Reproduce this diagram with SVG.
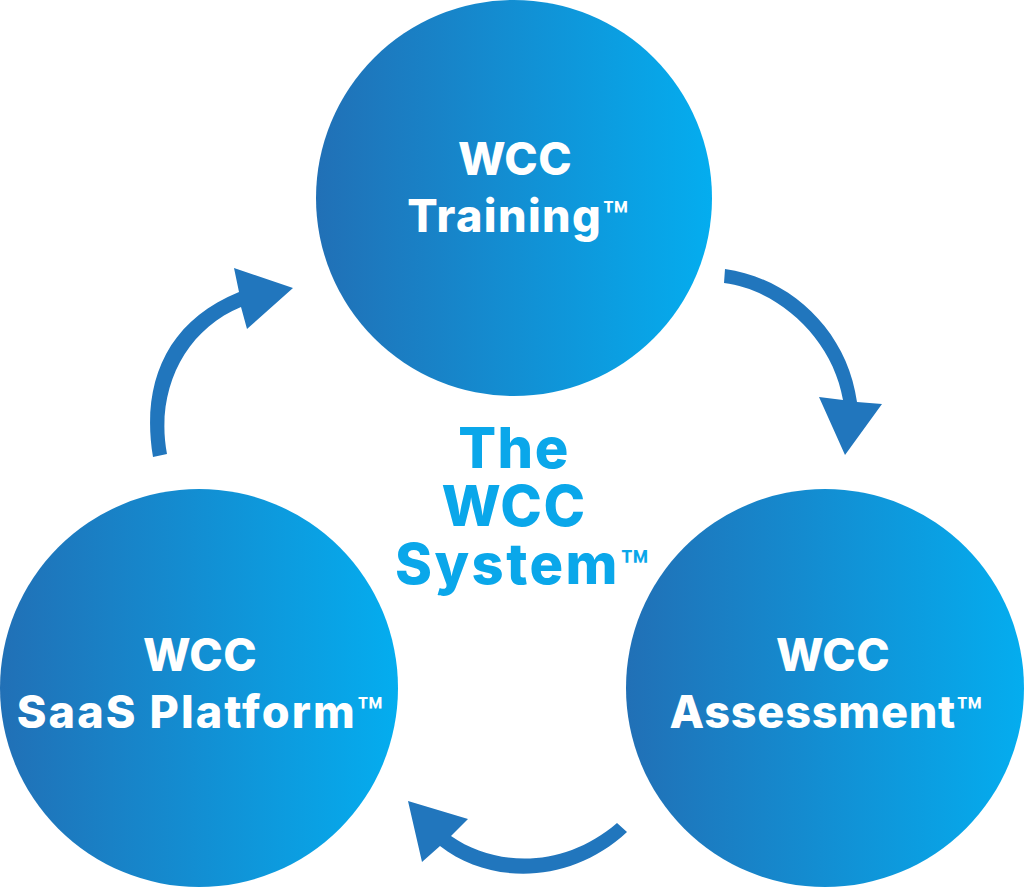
<svg xmlns="http://www.w3.org/2000/svg" width="1024" height="890" viewBox="0 0 1024 890">
<style>
.t{font-family:Inter,"Liberation Sans",sans-serif;font-weight:800;text-anchor:middle;fill:#fff;font-size:45px;letter-spacing:.4px}
.c{font-size:56px;fill:#0aa7ea;letter-spacing:1.5px}
.m{font-size:42px;font-weight:600;letter-spacing:0}
.mc{font-size:46px;font-weight:600;letter-spacing:0}
.a{fill:#2176bd}
</style>
<defs>
<linearGradient id="g" x1="0" y1="0" x2="1" y2="0"><stop offset="0" stop-color="#2170b6"/><stop offset="1" stop-color="#04adef"/></linearGradient>
</defs>
<rect width="1024" height="890" fill="#fff"/>
<g id="connectors">
<path class="a" d="M725 269C790 278 847 330 857 402L882 404L845 455L819 397L843 400C833 340 780 290 724 283Z"/>
<path class="a" d="M627 832C570 885 490 885 440 846L422 862L408 801L468 819L451 836C497 868 565 868 617 823Z"/>
<path class="a" d="M153 457C141 385 165 322 239 292L234 268L293 288L247 329L241 307C185 330 155 390 167 454Z"/>
</g>
<g id="training"><circle cx="514" cy="198" r="198" fill="url(#g)"/>
<text class="t" x="515" y="175">WCC</text><text class="t" x="518" y="232" style="letter-spacing:1.4px">Training<tspan class="m">™</tspan></text></g>
<g id="saas"><circle cx="199" cy="688" r="199" fill="url(#g)"/>
<text class="t" x="200" y="671">WCC</text><text class="t" x="200" y="728" style="letter-spacing:2.1px">SaaS Platform<tspan class="m">™</tspan></text></g>
<g id="assessment"><circle cx="825" cy="688" r="199" fill="url(#g)"/>
<text class="t" x="833" y="671">WCC</text><text class="t" x="826" y="728" style="letter-spacing:.8px">Assessment<tspan class="m">™</tspan></text></g>
<g id="center">
<text class="t c" x="514" y="468">The</text>
<text class="t c" x="514" y="526">WCC</text>
<text class="t c" x="522" y="584" style="letter-spacing:2.5px">System<tspan class="mc">™</tspan></text></g>
</svg>
